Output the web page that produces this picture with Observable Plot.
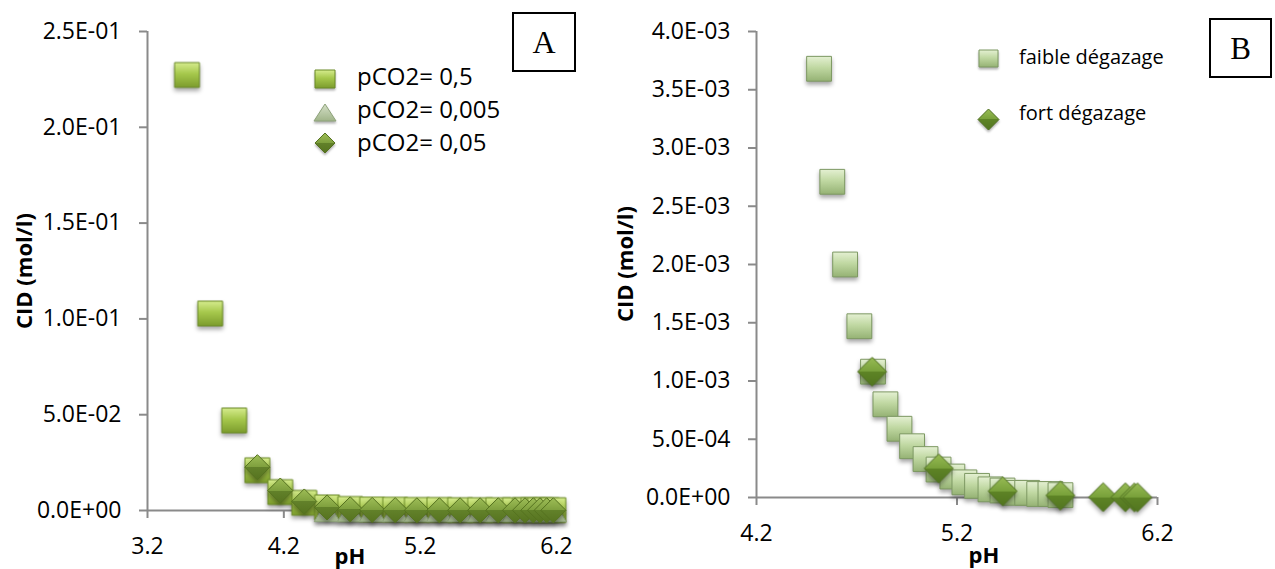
<!DOCTYPE html>
<html>
<head>
<meta charset="utf-8">
<script src="https://cdn.jsdelivr.net/npm/d3@7"></script>
<script src="https://cdn.jsdelivr.net/npm/@observablehq/plot@0.6"></script>
<style>
  body { margin: 0; background: #fff; }
  #wrap { position: relative; width: 1275px; height: 569px; overflow: hidden; font-family: "Open Sans", sans-serif; color: #000; }
  .panel { position: absolute; top: 0; }
  .ttl { position: absolute; font-weight: bold; font-size: 22px; line-height: 1; white-space: nowrap; }
  .box { position: absolute; border: 2px solid #000; box-sizing: border-box; font-family: "Liberation Serif", serif; display: flex; align-items: center; justify-content: center; line-height: 1; }
  .legtxt { position: absolute; white-space: nowrap; line-height: 1; transform: translateY(-50%); }
  .sw { position: absolute; overflow: visible; }
</style>
</head>
<body>
<svg width="0" height="0" style="position:absolute">
  <defs>
    <linearGradient id="gSqA" x1="0" y1="0" x2="0" y2="1">
      <stop offset="0" stop-color="#d6ec8e"/>
      <stop offset="0.45" stop-color="#a6c84c"/>
      <stop offset="1" stop-color="#7c9c2d"/>
    </linearGradient>
    <linearGradient id="gTriA" x1="0" y1="0" x2="0" y2="1">
      <stop offset="0" stop-color="#d5e0c8"/>
      <stop offset="1" stop-color="#a0b489"/>
    </linearGradient>
    <linearGradient id="gDiaA" x1="0" y1="0" x2="0" y2="1">
      <stop offset="0" stop-color="#9ebe57"/>
      <stop offset="0.5" stop-color="#7e9f3d"/>
      <stop offset="0.5" stop-color="#62812a"/>
      <stop offset="1" stop-color="#56731f"/>
    </linearGradient>
    <linearGradient id="gSqB" x1="0" y1="0" x2="0" y2="1">
      <stop offset="0" stop-color="#e4f0d2"/>
      <stop offset="0.45" stop-color="#c0d8a2"/>
      <stop offset="1" stop-color="#95b274"/>
    </linearGradient>
    <linearGradient id="gDiaB" x1="0" y1="0" x2="0" y2="1">
      <stop offset="0" stop-color="#98bc55"/>
      <stop offset="0.5" stop-color="#78a03a"/>
      <stop offset="0.5" stop-color="#5e8426"/>
      <stop offset="1" stop-color="#527520"/>
    </linearGradient>
  </defs>
</svg>
<div id="wrap"></div>
<script>
// ---------- Panel A data ----------
const phA_sq  = [3.49, 3.66, 3.836, 4.006, 4.174, 4.35, 4.517, 4.687, 4.848, 5.017, 5.176, 5.341, 5.493, 5.64, 5.773, 5.896, 5.969, 6.03, 6.079, 6.128, 6.177];
const cidA_sq = [0.2273, 0.1028, 0.047, 0.021, 0.0096, 0.004, 0.0016, 0.0008, 0.0005, 0.0004, 0.0003, 0.0003, 0.0002, 0.0002, 0.0002, 0.0002, 0.0002, 0.0002, 0.0002, 0.0002, 0.0002];
const phA_tri  = [4.517, 4.687, 4.848, 5.017, 5.176, 5.341, 5.493, 5.64, 5.773, 5.896, 5.969, 6.03, 6.079, 6.128, 6.177];
const cidA_tri = [0.0001, 0.0001, 0.0001, 0.0001, 0.0001, 0.0001, 0.0001, 0.0001, 0.0001, 0.0001, 0.0001, 0.0001, 0.0001, 0.0001, 0.0001];
const phA_dia  = [4.006, 4.174, 4.35, 4.517, 4.687, 4.848, 5.017, 5.176, 5.341, 5.493, 5.64, 5.773, 5.896, 5.969, 6.03, 6.079, 6.128, 6.177];
const cidA_dia = [0.0226, 0.0104, 0.0047, 0.0016, 0.0006, 0.0003, 0.0002, 0.0001, 0.0001, 0.0001, 0.0001, 0.0001, 0.0001, 0.0001, 0.0001, 0.0001, 0.0001, 0.0001];
const seriesA = ["pCO2= 0,5", "pCO2= 0,005", "pCO2= 0,05"];
const xTicksA = [3.2, 4.2, 5.2, 6.2];
const yTicksA = [0, 0.05, 0.10, 0.15, 0.20, 0.25];

// ---------- Panel B data ----------
const phB_sq  = [4.512, 4.578, 4.642, 4.713, 4.781, 4.843, 4.913, 4.976, 5.043, 5.108, 5.177, 5.237, 5.30, 5.367, 5.427, 5.49, 5.55, 5.61, 5.666, 5.716];
const cidB_sq = [0.00368, 0.00271, 0.00200, 0.00147, 0.00108, 0.00080, 0.00059, 0.00044, 0.00033, 0.00024, 0.00018, 0.00013, 0.00010, 0.00007, 0.00006, 0.00004, 0.00004, 0.00003, 0.00003, 0.00002];
const phB_dia  = [4.777, 5.109, 5.428, 5.716, 5.929, 6.04, 6.085, 6.1];
const cidB_dia = [0.00108, 0.00025, 0.000054, 0.000017, 0.000003, 0.000002, 0.000001, 0.000001];
const seriesB = ["faible dégazage", "fort dégazage"];
const xTicksB = [4.2, 5.2, 6.2];
const yTicksB = [0, 0.0005, 0.001, 0.0015, 0.002, 0.0025, 0.003, 0.0035, 0.004];

const axisTitleY = "CID (mol/l)";
const axisTitleX = "pH";

// ---------- helpers ----------
const zip = (xs, ys) => xs.map((x, i) => ({pH: x, cid: ys[i]}));
const fmtE = d => {
  const [m, e] = d.toExponential(1).split("e");
  const n = +e;
  return m.toUpperCase() + "E" + (n < 0 ? "-" : "+") + String(Math.abs(n)).padStart(2, "0");
};
const gray = "#8a8a8a";
const wrap = document.getElementById("wrap");

function makePanel({width, mL, mR, mT, mB, xTicks, yTicks, dots}) {
  const xDom = [xTicks[0], xTicks[xTicks.length - 1]];
  const yDom = [yTicks[0], yTicks[yTicks.length - 1]];
  const svg = Plot.plot({
    width, height: 569,
    marginLeft: mL, marginRight: mR, marginTop: mT, marginBottom: mB,
    style: {fontFamily: "Open Sans, sans-serif", fontSize: "23px", color: "#000", background: "transparent", overflow: "visible"},
    x: {domain: xDom, label: null},
    y: {domain: yDom, label: null},
    marks: [
      Plot.ruleX([xDom[0]], {stroke: gray, strokeWidth: 2}),
      Plot.ruleY([yDom[0]], {stroke: gray, strokeWidth: 2}),
      Plot.axisX({ticks: xTicks, tickSize: 8, tickPadding: 19, stroke: gray, strokeWidth: 2, tickFormat: d => d.toFixed(1), label: null}),
      Plot.axisY({ticks: yTicks, tickSize: 8, tickPadding: 18, stroke: gray, strokeWidth: 2, tickFormat: fmtE, label: null}),
      ...dots
    ]
  });
  svg.querySelectorAll('g[aria-label="dot"]').forEach(g => {
    g.style.filter = "drop-shadow(0px 3px 2px rgba(0,0,0,0.35))";
  });
  return svg;
}

// ---------- Panel A ----------
const svgA = makePanel({
  width: 637, mL: 147, mR: 81, mT: 31, mB: 59,
  xTicks: xTicksA, yTicks: yTicksA,
  dots: [
    Plot.dot(zip(phA_sq, cidA_sq), {x: "pH", y: "cid", symbol: "square", r: 14, fill: "url(#gSqA)", stroke: "#6a8a26", strokeWidth: 1}),
    Plot.dot(zip(phA_tri, cidA_tri), {x: "pH", y: "cid", symbol: "triangle", r: 9.5, dy: 4, fill: "url(#gTriA)", stroke: "#8ea37a", strokeWidth: 1}),
    Plot.dot(zip(phA_dia, cidA_dia), {x: "pH", y: "cid", symbol: "diamond2", r: 11.3, fill: "url(#gDiaA)", stroke: "#55721f", strokeWidth: 1})
  ]
});
svgA.classList.add("panel");
svgA.style.left = "0px";
wrap.appendChild(svgA);

// ---------- Panel B ----------
const svgB = makePanel({
  width: 638, mL: 119, mR: 118, mT: 31, mB: 72,
  xTicks: xTicksB, yTicks: yTicksB,
  dots: [
    Plot.dot(zip(phB_sq, cidB_sq), {x: "pH", y: "cid", symbol: "square", r: 14, fill: "url(#gSqB)", stroke: "#7d9862", strokeWidth: 1}),
    Plot.dot(zip(phB_dia, cidB_dia), {x: "pH", y: "cid", symbol: "diamond2", r: 13, fill: "url(#gDiaB)", stroke: "#4f7020", strokeWidth: 1})
  ]
});
svgB.classList.add("panel");
svgB.style.left = "637px";
wrap.appendChild(svgB);

// ---------- titles, boxes, legends ----------
function addText(cls, txt, css) {
  const d = document.createElement("div");
  d.className = cls;
  d.textContent = txt;
  Object.assign(d.style, css);
  wrap.appendChild(d);
  return d;
}
addText("ttl", axisTitleY, {left: "23px", top: "271px", transform: "translate(-50%,-50%) rotate(-90deg)"});
addText("ttl", axisTitleY, {left: "624px", top: "264px", transform: "translate(-50%,-50%) rotate(-90deg)"});
addText("ttl", axisTitleX, {left: "350px", top: "555px", transform: "translate(-50%,-50%)"});
addText("ttl", axisTitleX, {left: "984px", top: "554px", transform: "translate(-50%,-50%)"});

addText("box", "A", {left: "512px", top: "12px", width: "64px", height: "60px", fontSize: "32px"});
addText("box", "B", {left: "1209px", top: "18px", width: "63px", height: "60px", fontSize: "31px"});

function swatch(shape, cx, cy, w, h, fill, stroke) {
  const ns = "http://www.w3.org/2000/svg";
  const s = document.createElementNS(ns, "svg");
  s.setAttribute("class", "sw");
  s.setAttribute("width", w + 2);
  s.setAttribute("height", h + 2);
  s.style.left = (cx - w / 2 - 1) + "px";
  s.style.top = (cy - h / 2 - 1) + "px";
  s.style.filter = "drop-shadow(0px 2px 1px rgba(0,0,0,0.3))";
  const p = document.createElementNS(ns, "path");
  let d;
  if (shape === "square") d = `M1,1H${w + 1}V${h + 1}H1Z`;
  else if (shape === "triangle") d = `M${w / 2 + 1},1L${w + 1},${h + 1}H1Z`;
  else d = `M${w / 2 + 1},1L${w + 1},${h / 2 + 1}L${w / 2 + 1},${h + 1}L1,${h / 2 + 1}Z`;
  p.setAttribute("d", d);
  p.setAttribute("fill", fill);
  p.setAttribute("stroke", stroke);
  p.setAttribute("stroke-width", 1);
  s.appendChild(p);
  wrap.appendChild(s);
}
// legend A
swatch("square", 325, 79, 20, 18, "url(#gSqA)", "#6a8a26");
swatch("triangle", 325, 112, 22, 17, "url(#gTriA)", "#8ea37a");
swatch("diamond", 325, 143, 20, 20, "url(#gDiaA)", "#55721f");
addText("legtxt", seriesA[0], {left: "357px", top: "76px", fontSize: "24px"});
addText("legtxt", seriesA[1], {left: "357px", top: "109px", fontSize: "24px"});
addText("legtxt", seriesA[2], {left: "357px", top: "142px", fontSize: "24px"});
// legend B
swatch("square", 988, 58, 19, 17, "url(#gSqB)", "#7d9862");
swatch("diamond", 988.5, 119.5, 21, 21, "url(#gDiaB)", "#4f7020");
addText("legtxt", seriesB[0], {left: "1019px", top: "57px", fontSize: "20px"});
addText("legtxt", seriesB[1], {left: "1019px", top: "113px", fontSize: "20px"});
</script>
</body>
</html>
